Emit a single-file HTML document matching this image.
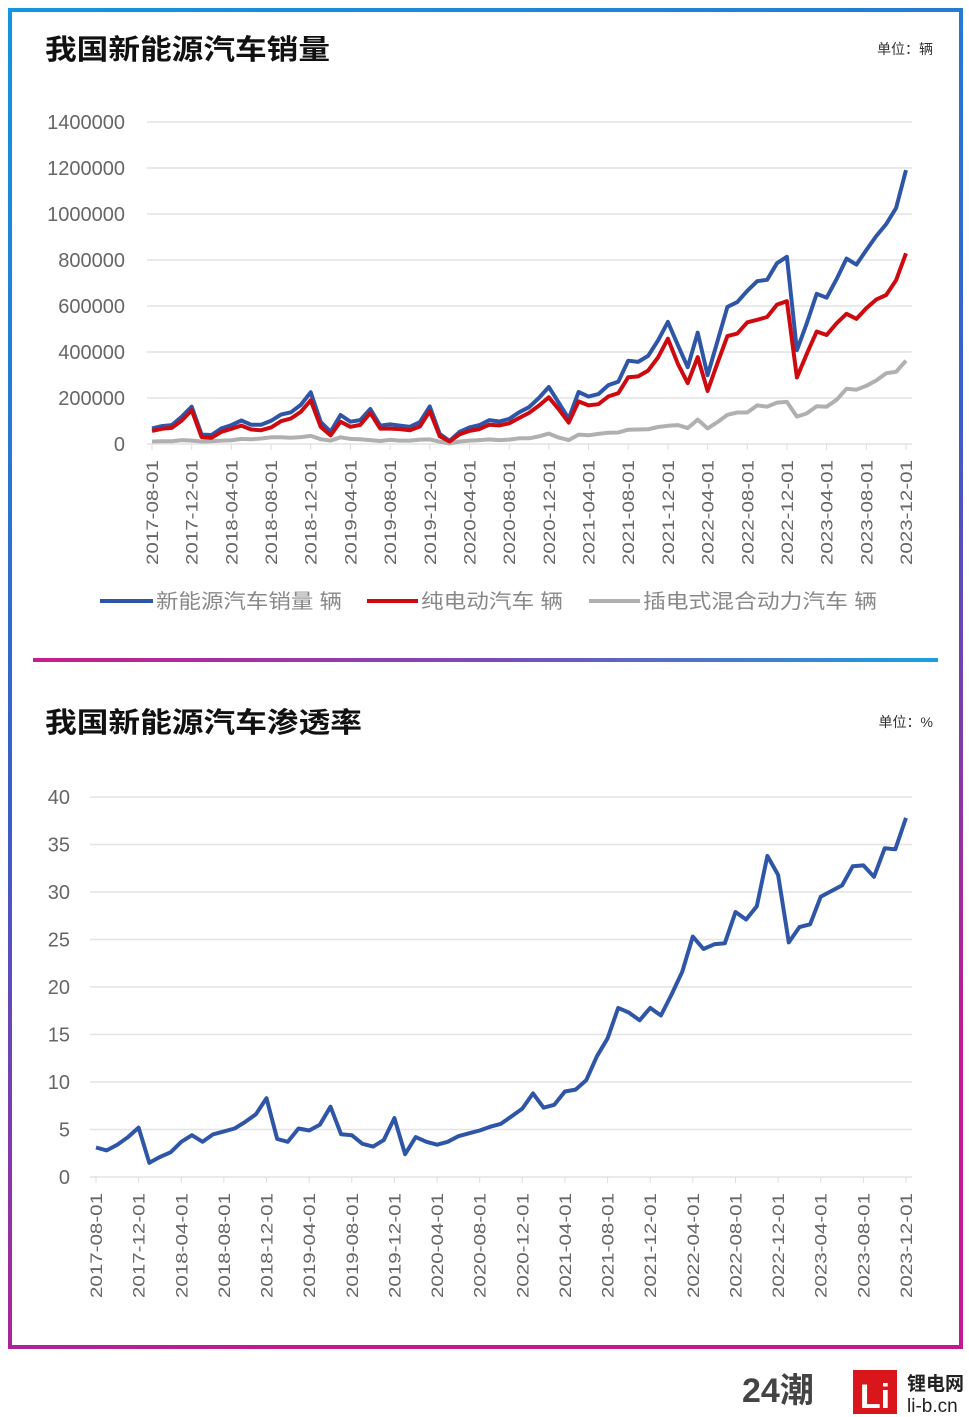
<!DOCTYPE html>
<html><head><meta charset="utf-8"><style>
body{margin:0;background:#fff;}
svg{display:block;font-family:"Liberation Sans","Noto Sans CJK SC",sans-serif;}
</style></head><body>
<svg id="page" width="969" height="1417" viewBox="0 0 969 1417">
<defs>
<linearGradient id="bg" x1="0" y1="0" x2="0.3" y2="1">
<stop offset="0" stop-color="#1296de"/><stop offset="0.55" stop-color="#3a5ec8"/><stop offset="1" stop-color="#c4188e"/>
</linearGradient>
<linearGradient id="dg" x1="0" y1="0" x2="1" y2="0">
<stop offset="0" stop-color="#c81d8c"/><stop offset="0.5" stop-color="#7a4ab8"/><stop offset="1" stop-color="#1aa0e0"/>
</linearGradient>
</defs>
<rect x="10" y="10" width="951" height="1337" fill="none" stroke="url(#bg)" stroke-width="4"/>
<rect x="33" y="658" width="905" height="4" fill="url(#dg)"/>

<text x="45" y="59" font-size="28" font-weight="bold" fill="#111" textLength="285" lengthAdjust="spacingAndGlyphs">我国新能源汽车销量</text>
<text x="933" y="54" font-size="14" fill="#333" text-anchor="end">单位：辆</text>
<g id="top"></g>
<g>
<line x1="100" y1="601" x2="153" y2="601" stroke="#2f56a6" stroke-width="4"/>
<text x="156" y="608" font-size="20" fill="#888" textLength="186" lengthAdjust="spacingAndGlyphs">新能源汽车销量 辆</text>
<line x1="367" y1="601" x2="418" y2="601" stroke="#cc0a10" stroke-width="4"/>
<text x="421" y="608" font-size="20" fill="#888" textLength="142" lengthAdjust="spacingAndGlyphs">纯电动汽车 辆</text>
<line x1="589" y1="601" x2="640" y2="601" stroke="#b0b0b0" stroke-width="4"/>
<text x="643" y="608" font-size="20" fill="#888" textLength="234" lengthAdjust="spacingAndGlyphs">插电式混合动力汽车 辆</text>
</g>

<text x="45" y="732" font-size="28" font-weight="bold" fill="#111" textLength="317" lengthAdjust="spacingAndGlyphs">我国新能源汽车渗透率</text>
<text x="933" y="727" font-size="14" fill="#333" text-anchor="end">单位：%</text>
<g id="bot"></g>

<g>
<text x="742" y="1402" font-size="34" font-weight="bold" fill="#444">24潮</text>
<rect x="853" y="1370" width="44" height="44" fill="#d8161b"/>
<text x="875" y="1408" font-size="34" font-weight="bold" fill="#fff" text-anchor="middle">Li</text>
<text x="907" y="1390" font-size="19" font-weight="bold" fill="#222">锂电网</text>
<text x="907" y="1412" font-size="19" fill="#222">li-b.cn</text>
</g>
</svg>
<script>
const months = [];
for (let y = 2017, m = 8; !(y === 2024 && m === 1); ) { months.push(y + '-' + String(m).padStart(2,'0') + '-01'); m++; if (m > 12) { m = 1; y++; } }
const nevSales = [68000,78000,82000,119000,162000,
41000,39000,68000,82000,102000,84000,84000,101000,128000,138000,170000,225000,
96000,53000,126000,97000,104000,152000,80000,85000,80000,75000,95000,163000,
44000,13000,53000,72000,82000,104000,98000,109000,138000,160000,200000,248000,
179000,110000,226000,206000,217000,256000,271000,362000,357000,383000,450000,531000,
431000,334000,484000,299000,447000,596000,617000,666000,708000,714000,786000,814000,
408000,525000,653000,636000,717000,806000,780000,843000,904000,956000,1026000,1191000];
const bevSales = [57000,66000,70000,102000,147000,
30000,27000,53000,66000,80000,63000,60000,72000,99000,111000,140000,190000,
75000,38000,97000,75000,83000,135000,67000,67000,65000,60000,76000,143000,
34000,11000,42000,57000,65000,84000,81000,90000,113000,135000,167000,203000,
151000,93000,185000,168000,173000,207000,221000,290000,294000,319000,376000,458000,
349000,265000,378000,231000,352000,469000,480000,529000,540000,552000,606000,621000,
289000,392000,489000,474000,525000,566000,544000,590000,628000,648000,712000,829000];
const phevSales = [11000,12000,12000,17000,15000,
11000,12000,15000,16000,22000,21000,24000,29000,29000,27000,30000,35000,
21000,15000,29000,22000,21000,17000,13000,18000,15000,15000,19000,20000,
10000,2000,11000,15000,17000,20000,17000,19000,25000,25000,33000,45000,
28000,17000,41000,38000,44000,49000,50000,62000,63000,64000,74000,79000,
82000,69000,106000,68000,95000,127000,137000,137000,168000,162000,180000,183000,
119000,133000,164000,162000,192000,240000,236000,253000,276000,308000,314000,362000];
const penetration = [3.1,2.8,3.4,4.2,5.2,
1.5,2.1,2.6,3.7,4.4,3.7,4.5,4.8,5.1,5.8,6.6,8.3,
4.0,3.7,5.1,4.9,5.5,7.4,4.5,4.4,3.5,3.2,3.9,6.2,
2.4,4.2,3.7,3.4,3.7,4.3,4.6,4.9,5.3,5.6,6.4,7.2,
8.8,7.3,7.6,9.0,9.2,10.2,12.7,14.6,17.8,17.3,16.5,17.8,
19.1,17.0,19.2,21.6,25.3,24.0,24.5,24.6,27.9,27.1,28.5,33.8,
31.8,24.7,26.3,26.6,29.5,30.1,30.7,32.7,32.8,31.6,34.6,34.5,37.8];
const salesTicks = [0,200000,400000,600000,800000,1000000,1200000,1400000];
const pctTicks = [0,5,10,15,20,25,30,35,40];

const NS = 'http://www.w3.org/2000/svg';
function mk(parent, tag, attrs) { const e = document.createElementNS(NS, tag); for (const k in attrs) e.setAttribute(k, attrs[k]); parent.appendChild(e); return e; }

function drawChart(g, cfg) {
  const n = months.length;
  const x = i => cfg.x0 + (cfg.x1 - cfg.x0) * i / (n - 1);
  const y = v => cfg.yb - (cfg.yb - cfg.yt) * v / cfg.ymax;
  cfg.ticks.forEach(t => {
    const gl = mk(g, 'line', {x1: cfg.gx0, x2: cfg.gx1, y1: y(t), y2: y(t), stroke: '#e4e4e4', 'stroke-width': 1.5});
    
    
    const tl = mk(g, 'text', {x: cfg.ylx, y: y(t) + 7, 'text-anchor': 'end', 'font-size': cfg.yfs, fill: '#666'});
    tl.textContent = t;
    
    
  });
  for (let i = 0; i < n; i += 4) {
    const tk = mk(g, 'line', {x1: x(i), x2: x(i), y1: cfg.yb, y2: cfg.yb + 6, stroke: '#ddd', 'stroke-width': 1});
    
    
    const lb = mk(g, 'text', {x: 0, y: 0, 'text-anchor': 'end', 'font-size': cfg.xfs, fill: '#666',
      textLength: 105, lengthAdjust: 'spacingAndGlyphs',
      transform: 'translate(' + (x(i) + 6) + ',' + (cfg.yb + 16) + ') rotate(-90)'});
    lb.textContent = months[i];
    
    
  }
  cfg.series.forEach(s => {
    const d = s.data.slice(0, n).map((v, i) => (i ? 'L' : 'M') + x(i).toFixed(1) + ',' + y(v).toFixed(1)).join('');
    const p = mk(g, 'path', {d: d, fill: 'none', stroke: s.color, 'stroke-width': s.w, 'stroke-linejoin': 'round'});
    
    
  });
}
if (penetration.length > months.length) penetration.splice(53, 1);

drawChart(document.getElementById('top'), {x0: 152, x1: 906, gx0: 147, gx1: 912, yb: 444, yt: 122, ymax: 1400000,
  ticks: salesTicks, ylx: 125, yfs: 20, xfs: 17,
  series: [
    {data: phevSales, color: '#b0b0b0', w: 4, name: 'series-phev-line'},
    {data: nevSales, color: '#2f56a6', w: 4, name: 'series-nev-line'},
    {data: bevSales, color: '#cc0a10', w: 4, name: 'series-bev-line'}
  ]});
drawChart(document.getElementById('bot'), {x0: 96, x1: 906, gx0: 90, gx1: 912, yb: 1177, yt: 797, ymax: 40,
  ticks: pctTicks, ylx: 70, yfs: 20, xfs: 17,
  series: [{data: penetration, color: '#2f56a6', w: 4, name: 'series-penetration-line'}]});
</script>
</body></html>
